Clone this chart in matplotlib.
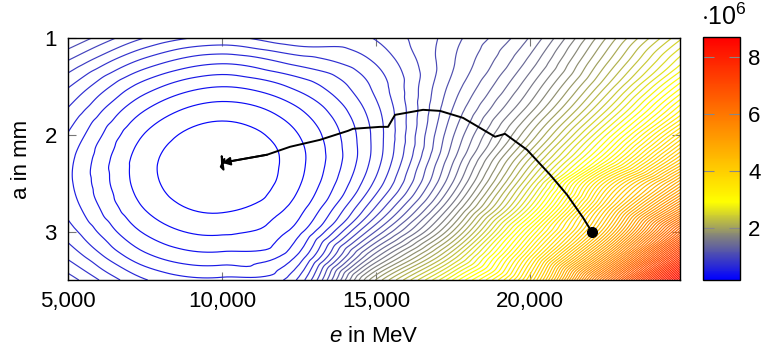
import matplotlib
matplotlib.use('Agg')
import matplotlib.pyplot as plt
import matplotlib.tri as mtri
from matplotlib.colors import LinearSegmentedColormap, Normalize
from matplotlib.cm import ScalarMappable
from matplotlib.ticker import FuncFormatter
import numpy as np

# grid of the field (values in 10^6), rows follow a_grid, columns follow e_grid
e_grid = [5000, 7500, 10000, 12500, 15000, 17500, 20000, 22500, 25000]
a_grid = [1.0, 1.25, 1.5, 1.75, 2.0, 2.25, 2.5, 2.75, 3.0, 3.25, 3.5]
z_grid = [
    [1.100, 0.860, 0.764, 0.853, 0.870, 1.070, 1.350, 1.910, 2.470],
    [0.930, 0.670, 0.554, 0.650, 0.790, 1.094, 1.454, 2.054, 2.710],
    [0.790, 0.505, 0.384, 0.488, 0.726, 1.134, 1.574, 2.230, 3.030],
    [0.690, 0.381, 0.261, 0.372, 0.678, 1.190, 1.718, 2.470, 3.390],
    [0.616, 0.297, 0.184, 0.303, 0.654, 1.254, 1.910, 2.790, 3.850],
    [0.568, 0.256, 0.152, 0.278, 0.662, 1.326, 2.150, 3.150, 4.350],
    [0.562, 0.258, 0.160, 0.294, 0.726, 1.430, 2.414, 3.800, 5.000],
    [0.593, 0.296, 0.207, 0.348, 0.870, 1.630, 2.710, 4.200, 5.700],
    [0.660, 0.371, 0.288, 0.437, 1.110, 1.910, 3.150, 4.600, 6.600],
    [0.762, 0.480, 0.405, 0.561, 1.470, 2.310, 3.550, 5.300, 7.600],
    [0.902, 0.628, 0.560, 0.724, 1.910, 2.790, 3.900, 6.200, 8.710],
]

# optimisation path, start (dot) -> end (arrow)
path_e = [22000, 21722, 21202, 20650, 19903, 19188, 18864, 17825, 17079, 16527,
          15617, 15390, 15130, 14254, 14091, 13182, 12208, 11461, 10000,
          10080, 9960, 10050, 9990, 10000]
path_a = [3.0, 2.856, 2.619, 2.412, 2.155, 1.99, 2.02, 1.825, 1.753, 1.742,
          1.794, 1.918, 1.918, 1.938, 1.959, 2.052, 2.124, 2.206, 2.289,
          2.25, 2.33, 2.36, 2.22, 2.29]

x_ticks = [5000, 10000, 15000, 20000]
y_ticks = [1, 2, 3]
cbar_ticks = [2, 4, 6, 8]
z_min, z_max = 0.15, 8.72

plt.rcParams['font.family'] = 'Liberation Sans'
plt.rcParams['mathtext.fontset'] = 'custom'
plt.rcParams['mathtext.rm'] = 'Liberation Sans'
plt.rcParams['mathtext.it'] = 'Liberation Sans:italic'

cmap = LinearSegmentedColormap.from_list('pgf', [
    (0.0, (0, 0, 1)),
    (0.175, (0.5, 0.5, 0.5)),
    (0.32, (1, 1, 0)),
    (1.0, (1, 0, 0)),
])
norm = Normalize(z_min, z_max)

fig = plt.figure(figsize=(7.64, 3.5), dpi=100)
ax = fig.add_axes([68/764, 70/350, 612/764, 242/350])
cax = fig.add_axes([703/764, 70/350, 37/764, 243/350])

# smooth the coarse grid with matplotlib's own tri refiner
E, A = np.meshgrid(np.arange(len(e_grid)), np.arange(len(a_grid)))
tri = mtri.Triangulation(E.ravel().astype(float), A.ravel().astype(float))
z = np.array(z_grid).ravel()
interp = mtri.CubicTriInterpolator(tri, z, kind='geom')
refiner = mtri.UniformTriRefiner(tri)
tri_f, z_f = refiner.refine_field(z, triinterpolator=interp, subdiv=4)
ef = np.interp(tri_f.x, np.arange(len(e_grid)), e_grid)
af = np.interp(tri_f.y, np.arange(len(a_grid)), a_grid)
tri_d = mtri.Triangulation(ef, af, triangles=tri_f.triangles)

levels = np.arange(z_min + 0.072, z_max, 0.08)
ax.tricontour(tri_d, z_f, levels=levels, cmap=cmap, norm=norm, linewidths=0.85)

ax.plot(path_e, path_a, color='black', lw=1.4, zorder=5)
ax.plot(path_e[0], path_a[0], 'o', color='black', ms=7, zorder=6)
ax.annotate('', xy=(path_e[18], path_a[18]), xytext=(path_e[17], path_a[17]),
            arrowprops=dict(arrowstyle='-|>', color='black', lw=1.4,
                            mutation_scale=12, shrinkA=0, shrinkB=0), zorder=6)

ax.set_xlim(5000, 24870)
ax.set_ylim(3.5, 1.0)
ax.set_xticks(x_ticks)
ax.set_yticks(y_ticks)
ax.xaxis.set_major_formatter(FuncFormatter(lambda v, p: '{:,.0f}'.format(v)))
ax.tick_params(direction='in', top=True, right=True, length=6, color='#777777',
               labelsize=16, pad=8)
for s in ax.spines.values():
    s.set_linewidth(1.0)
ax.set_xlabel(r'$e$ in MeV', fontsize=16, labelpad=10)
ax.set_ylabel('a in mm', fontsize=16, labelpad=9)

cb = fig.colorbar(ScalarMappable(norm=norm, cmap=cmap), cax=cax)
cb.set_ticks(cbar_ticks)
cax.tick_params(direction='in', left=True, right=True, length=8, color='#888888',
                labelsize=16, pad=6)
cb.outline.set_linewidth(1.0)
fig.text(724/764, 1 - 17/350, r'$\cdot10^6$', ha='center', va='center', fontsize=18)

fig.savefig('out.png', dpi=100)
